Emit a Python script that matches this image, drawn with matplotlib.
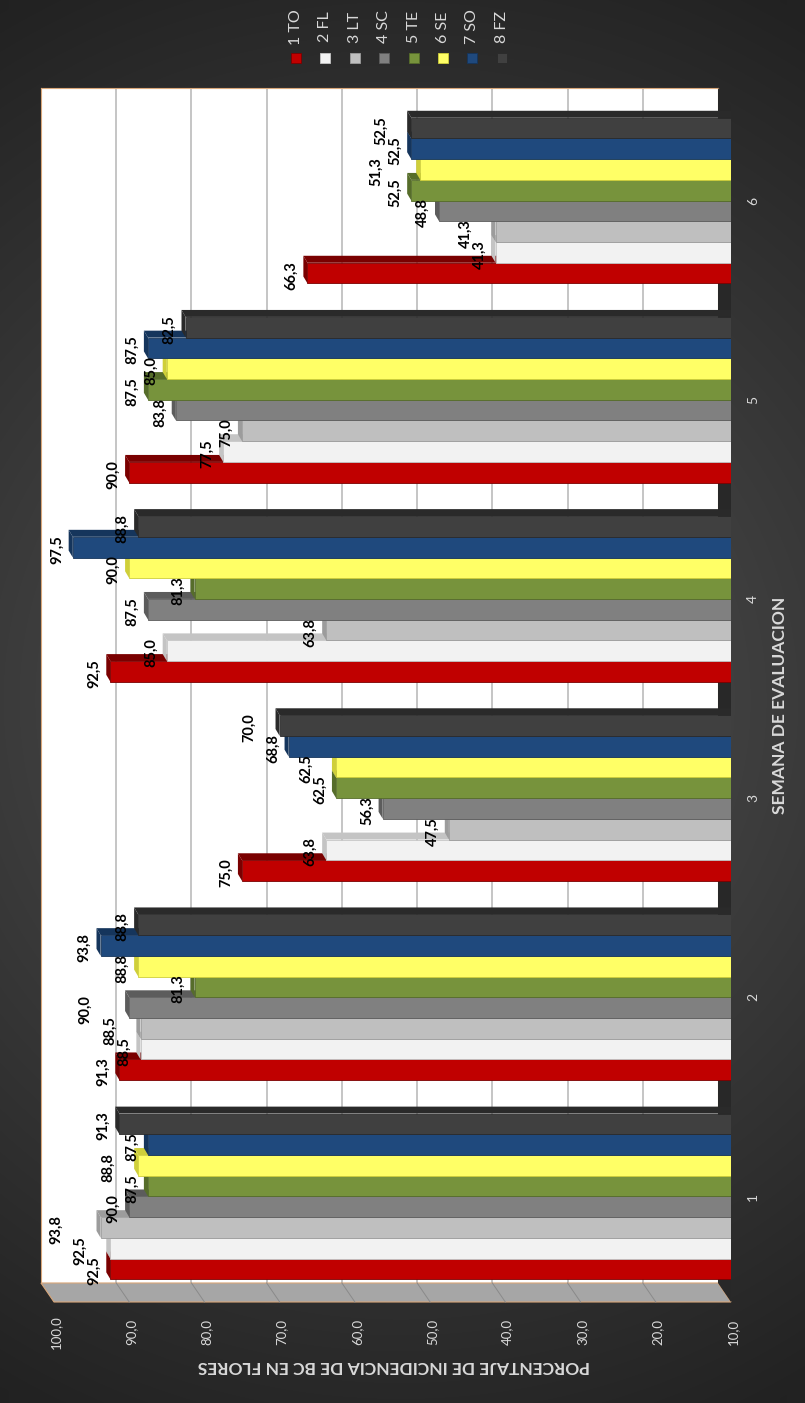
"""
Incidencia de BC en flores por semana de evaluacion (barras 3D, vista girada).
"""

import numpy as np
import matplotlib
matplotlib.use("Agg")
import matplotlib.pyplot as plt
from matplotlib.patches import Polygon, Rectangle

plt.rcParams["font.family"] = ["Lato", "DejaVu Sans"]

semanas = [1, 2, 3, 4, 5, 6]
tratamientos = ["1 TO", "2 FL", "3 LT", "4 SC", "5 TE", "6 SE", "7 SO", "8 FZ"]

to = [92.5, 91.3, 75.0, 92.5, 90.0, 66.3]
fl = [92.5, 88.5, 63.8, 85.0, 77.5, 41.3]
lt = [93.8, 88.5, 47.5, 63.8, 75.0, 41.3]
sc = [90.0, 90.0, 56.3, 87.5, 83.8, 48.8]
te = [87.5, 81.3, 62.5, 81.3, 87.5, 52.5]
se = [88.8, 88.8, 62.5, 90.0, 85.0, 51.3]
so = [87.5, 93.8, 68.8, 97.5, 87.5, 52.5]
fz = [91.3, 88.8, 70.0, 88.8, 82.5, 52.5]
series = [to, fl, lt, sc, te, se, so, fz]

ticks_y = [100, 90, 80, 70, 60, 50, 40, 30, 20, 10]

colores = ["#C00000", "#F2F2F2", "#BFBFBF", "#808080",
           "#77933C", "#FFFF66", "#1F497D", "#404040"]
sombras = ["#7A0000", "#C4C4C4", "#9C9C9C", "#5C5C5C",
           "#566D2A", "#CFCF3A", "#15355C", "#2A2A2A"]

W, H = 805, 1403
TXT = "#D9D9D9"
BORDE = "#D9A77A"
PX_VAL = (731 - 54) / 90      # pixeles por unidad de porcentaje
PX_SEM = 199.3                # pixeles entre semanas


def px_axes(fig, x0, y0, x1, y1, z):
    ax = fig.add_axes([x0 / W, 1 - y1 / H, (x1 - x0) / W, (y1 - y0) / H])
    ax.set_zorder(z)
    return ax


def fmt(v):
    return f"{v:.1f}".replace(".", ",")


fig = plt.figure(figsize=(W / 100, H / 100), dpi=100)

# fondo con degradado radial
bg = px_axes(fig, 0, 0, W, H, 0)
yy, xx = np.mgrid[0:H, 0:W]
r = np.hypot(xx - 400, yy - 700)
g = np.clip(84 - 0.063 * r, 34, 84) / 255
bg.imshow(np.dstack([g, g, g]), extent=[0, W, H, 0], aspect="auto")
bg.set_xlim(0, W)
bg.set_ylim(H, 0)
bg.axis("off")

# pared del fondo
back = px_axes(fig, 41, 88, 718, 1283, 1)
back.set_facecolor("white")
back.set_xlim(100, 10)
back.set_xticks(ticks_y[1:-1])
back.set_yticks([])
back.tick_params(length=0, labelbottom=False)
back.grid(axis="x", color="#C0C0C0", lw=1.3)
for s in back.spines.values():
    s.set_color(BORDE)
    s.set_linewidth(0.8)

# pared lateral y piso
frame = px_axes(fig, 0, 0, W, H, 2)
frame.set_xlim(0, W)
frame.set_ylim(H, 0)
frame.axis("off")
frame.patch.set_alpha(0)
frame.add_patch(Polygon([(41, 1283), (718, 1283), (731, 1302), (54, 1302)],
                        closed=True, fc="#A6A6A6", ec=BORDE, lw=0.8))
frame.add_patch(Polygon([(718, 88), (731, 107), (731, 1302), (718, 1283)],
                        closed=True, fc="#282828", ec="none"))
for v in ticks_y[1:-1]:
    xb = 41 + (100 - v) * (718 - 41) / 90
    xf = 54 + (100 - v) * (731 - 54) / 90
    frame.plot([xb, xf], [1283, 1302], color="#8A8A8A", lw=0.7)

# barras
ax = px_axes(fig, 54, 107, 731, 1302, 3)
ax.set_xlim(100, 10)
ax.set_ylim(0.47, 6.47)
ax.axis("off")
ax.patch.set_alpha(0)

bw = 0.104
dv, dc = 0.55, 0.035
y_sem = np.array(semanas, dtype=float)
for i, vals in enumerate(series):
    yc = y_sem - 4 * bw + (i + 0.5) * bw
    for v, c in zip(vals, yc):
        yb, yt = c - bw / 2, c + bw / 2
        ax.add_patch(Polygon([(10, yt), (v, yt), (v + dv, yt + dc), (10, yt + dc)],
                             closed=True, fc=sombras[i], ec="none", zorder=2 + i))
        ax.add_patch(Polygon([(v, yb), (v, yt), (v + dv, yt + dc), (v + dv, yb + dc)],
                             closed=True, fc=sombras[i], ec="none", zorder=2 + i))
    ax.barh(yc, [v - 10 for v in vals], left=10, height=bw, color=colores[i],
            edgecolor=sombras[i], lw=0.6, zorder=2 + i)

# etiquetas de datos: se corren a la izquierda si chocan con otra del grupo
for j, s in enumerate(semanas):
    puestas = []
    for i, vals in enumerate(series):
        v = vals[j]
        c = s - 4 * bw + (i + 0.5) * bw
        xp = (v - 10) * PX_VAL + 16        # distancia a la izquierda desde la base
        yp = c * PX_SEM
        while any(abs(xp - a) < 14 and abs(yp - b) < 29 for a, b in puestas):
            xp += 14
        puestas.append((xp, yp))
        dx = -(xp - (v - 10) * PX_VAL)
        ax.annotate(fmt(v), xy=(v, c), xytext=(dx * 0.72, -1.5), textcoords="offset points",
                    rotation=90, ha="center", va="center", fontsize=10.5,
                    fontweight="bold", color="black", zorder=20)

# etiquetas de categorias y de valores
for s in semanas:
    ax.annotate(str(s), xy=(10, s), xytext=(16, 0), textcoords="offset points",
                rotation=90, ha="center", va="center", fontsize=10, color=TXT,
                annotation_clip=False)
for v in ticks_y:
    ax.annotate(fmt(v), xy=(v, 0.47), xytext=(1.5, -21.5), textcoords="offset points",
                rotation=90, ha="center", va="center", fontsize=9.5, color=TXT,
                annotation_clip=False)

# titulos de ejes
bg.text(780, 705, "SEMANA DE EVALUACION", rotation=90, ha="center", va="center",
        fontsize=12.5, fontweight="bold", color=TXT)
bg.text(394, 1366, "PORCENTAJE DE INCIDENCIA DE BC EN FLORES", rotation=180,
        ha="center", va="center", fontsize=12.5, fontweight="bold", color=TXT)

# leyenda
for i, nombre in enumerate(tratamientos):
    x = 296 + i * 29.4
    bg.add_patch(Rectangle((x - 5, 53), 10, 10, fc=colores[i], ec=sombras[i], lw=0.6))
    bg.text(x, 27, nombre, rotation=90, ha="center", va="center",
            fontsize=11.5, color=TXT)

plt.savefig("out.png", dpi=100)
